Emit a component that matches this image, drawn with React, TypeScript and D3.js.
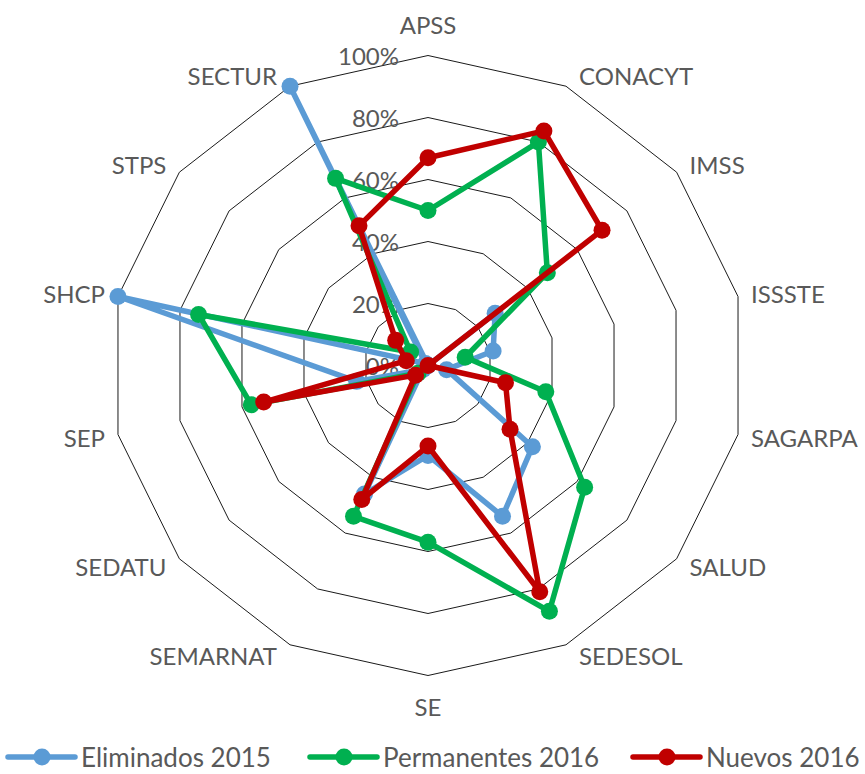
import React from "react";
import * as d3 from "d3";

const categories = ["APSS", "CONACYT", "IMSS", "ISSSTE", "SAGARPA", "SALUD", "SEDESOL", "SE", "SEMARNAT", "SEDATU", "SEP", "SHCP", "STPS", "SECTUR"];
const eliminados2015 = [0, 0, 27, 21, 6, 42, 54, 29, 46, 2, 23, 100, 1, 100];
const permanentes2016 = [50, 80, 48, 12, 38, 63, 88, 57, 54, 4, 57, 74, 7, 67];
const nuevos2016 = [67, 84, 70, 0, 25, 33, 81, 26, 48, 5, 53, 7, 13, 50];
const tickValues = [0, 20, 40, 60, 80, 100];
const seriesNames = ["Eliminados 2015", "Permanentes 2016", "Nuevos 2016"];
const seriesColors = ["#5B9BD5", "#00B050", "#C00000"];

const W = 865;
const H = 774;
const cx = 428;
const cy = 365.5;
const FONT = "Lato, 'Open Sans', sans-serif";
const TEXT = "#595959";

export default function App() {
  const n = categories.length;
  const angle = d3.scaleLinear().domain([0, n]).range([0, 2 * Math.PI]);
  const rx = d3.scaleLinear().domain([0, 100]).range([0, 318]);
  const ry = d3.scaleLinear().domain([0, 100]).range([0, 310]);
  const pt = (i: number, v: number): [number, number] => {
    const a = angle(i);
    return [cx + Math.sin(a) * rx(v), cy - Math.cos(a) * ry(v)];
  };
  const closed = d3.line().curve(d3.curveLinearClosed);
  const series = [eliminados2015, permanentes2016, nuevos2016];

  const legendX = [8, 310, 633];

  return (
    <svg width={W} height={H} style={{ position: "absolute", left: 0, top: 0, background: "#fff" }} fontFamily={FONT}>
      <rect width={W} height={H} fill="#fff" />
      {tickValues.filter((t) => t > 0).map((t) => (
        <path key={t} d={closed(categories.map((_, i) => pt(i, t))) || ""} fill="none" stroke="#1a1a1a" strokeWidth={1} />
      ))}
      {tickValues.map((t) => (
        <text key={"t" + t} x={cx - 29} y={cy - ry(t)} textAnchor="end" dominantBaseline="central" fontSize={24} fill={TEXT}>
          {t}%
        </text>
      ))}
      {categories.map((c, i) => {
        const a = angle(i);
        const s = Math.sin(a);
        const co = Math.cos(a);
        const [vx, vy] = pt(i, 100);
        let x = vx, y = vy, anchor = "middle";
        if (Math.abs(s) < 0.1) {
          y = vy - co * 31;
        } else {
          anchor = s > 0 ? "start" : "end";
          x = vx + Math.sign(s) * 13;
          y = vy - co * 12;
        }
        return (
          <text key={c} x={x} y={y} textAnchor={anchor} dominantBaseline="central" fontSize={24} fill={TEXT}>
            {c}
          </text>
        );
      })}
      {series.map((vals, si) => (
        <g key={si}>
          <path d={closed(vals.map((v, i) => pt(i, v))) || ""} fill="none" stroke={seriesColors[si]} strokeWidth={5.5} strokeLinejoin="round" />
          {vals.map((v, i) => {
            const [x, y] = pt(i, v);
            return <circle key={i} cx={x} cy={y} r={8.5} fill={seriesColors[si]} />;
          })}
        </g>
      ))}
      {seriesNames.map((name, si) => (
        <g key={name}>
          <line x1={legendX[si]} x2={legendX[si] + 67} y1={757} y2={757} stroke={seriesColors[si]} strokeWidth={5.5} strokeLinecap="round" />
          <circle cx={legendX[si] + 34} cy={757} r={8.5} fill={seriesColors[si]} />
          <text x={legendX[si] + 73} y={757} dominantBaseline="central" fontSize={26} fill={TEXT}>
            {name}
          </text>
        </g>
      ))}
    </svg>
  );
}
